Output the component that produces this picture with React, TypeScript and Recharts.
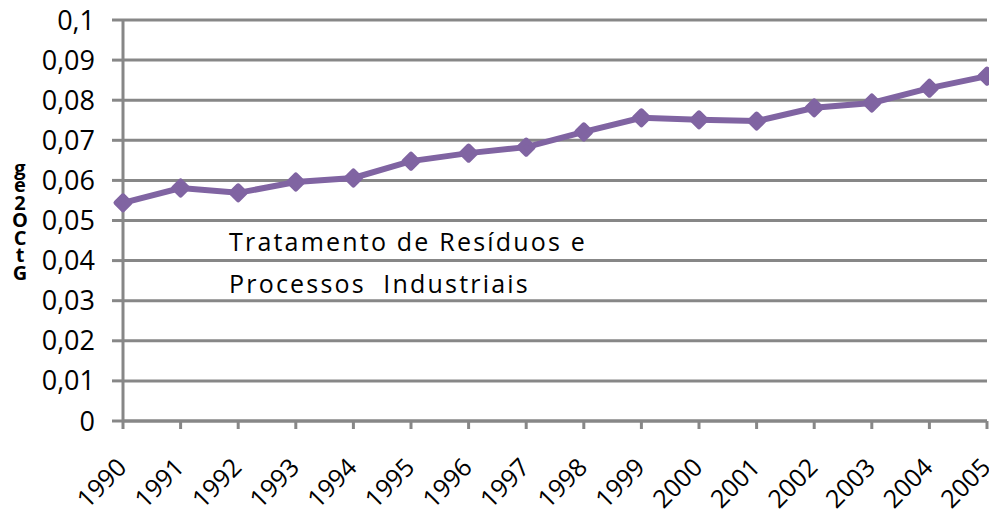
import { LineChart, Line, XAxis, YAxis, CartesianGrid, Label } from 'recharts'

const years = [1990, 1991, 1992, 1993, 1994, 1995, 1996, 1997, 1998, 1999, 2000, 2001, 2002, 2003, 2004, 2005]
const emissions = [0.0544, 0.0581, 0.0569, 0.0596, 0.0606, 0.0648, 0.0668, 0.0683, 0.0721, 0.0756, 0.0751, 0.0748, 0.0781, 0.0793, 0.083, 0.086]
const yTicks = [0, 0.01, 0.02, 0.03, 0.04, 0.05, 0.06, 0.07, 0.08, 0.09, 0.1]
const yLabelLetters = ['g', 'e', '2', 'O', 'C', 't', 'G']
const annotationLines = ['Tratamento de Resíduos e', 'Processos  Industriais']

const FONT = '"Open Sans", sans-serif'
const GRID = '#878787'
const PURPLE = '#8064A2'

const data = years.map((year, i) => ({ year, value: emissions[i] }))

function formatTick(v: number) {
  if (v === 0) return '0'
  return String(Math.round(v * 100) / 100).replace('.', ',')
}

function YearTick(props: any) {
  const { x, y, payload } = props
  return (
    <g transform={`translate(${x + 5},${y + 38}) rotate(-45)`}>
      <text x={0} y={0} textAnchor="end" fontSize={25} fontFamily={FONT} fill="#000">
        {payload.value}
      </text>
    </g>
  )
}

function Diamond(props: any) {
  const { cx, cy } = props
  if (cx == null || cy == null) return null
  const r = 7
  return (
    <path
      d={`M${cx},${cy - r} L${cx + r},${cy} L${cx},${cy + r} L${cx - r},${cy} Z`}
      fill={PURPLE}
      stroke={PURPLE}
      strokeWidth={5}
      strokeLinejoin="round"
    />
  )
}

function StackedLabel(props: any) {
  const { viewBox } = props
  const cx = 20
  const top = viewBox.y + viewBox.height / 2 - 46
  return (
    <text fontSize={20} fontWeight="bold" fontFamily={FONT} fill="#000" textAnchor="middle">
      {yLabelLetters.map((ch, i) => (
        <tspan key={i} x={cx} y={top + i * 17.5}>
          {ch}
        </tspan>
      ))}
    </text>
  )
}

export default function App() {
  return (
    <div style={{ position: 'relative', width: 989, height: 518, overflow: 'hidden' }}>
      <style>{'html, body { margin: 0; overflow: hidden; }'}</style>
      <LineChart width={989} height={518} data={data} margin={{ top: 20, right: 2, bottom: 0, left: 0 }}>
        <CartesianGrid horizontal vertical={false} stroke={GRID} strokeWidth={3} />
        <XAxis
          dataKey="year"
          type="number"
          domain={[1990, 2005]}
          ticks={years}
          interval={0}
          height={97}
          tick={<YearTick />}
          tickSize={8}
          axisLine={{ stroke: GRID, strokeWidth: 3 }}
          tickLine={{ stroke: GRID, strokeWidth: 3 }}
        />
        <YAxis
          domain={[0, 0.1]}
          ticks={yTicks}
          interval={0}
          width={123}
          tickFormatter={formatTick}
          tickSize={11}
          tickMargin={17}
          tick={{ fill: '#000', fontSize: 27, fontFamily: FONT }}
          axisLine={{ stroke: GRID, strokeWidth: 3 }}
          tickLine={{ stroke: GRID, strokeWidth: 3 }}
        >
          <Label content={<StackedLabel />} />
        </YAxis>
        <Line
          dataKey="value"
          stroke={PURPLE}
          strokeWidth={6}
          dot={<Diamond />}
          activeDot={false}
          isAnimationActive={false}
        />
      </LineChart>
      {annotationLines.map((line, i) => (
        <div
          key={i}
          style={{
            position: 'absolute',
            left: 229,
            top: 224 + i * 42,
            fontFamily: FONT,
            fontSize: 25,
            letterSpacing: 2.2,
            whiteSpace: 'pre',
            color: '#000',
            lineHeight: '34px',
          }}
        >
          {line}
        </div>
      ))}
    </div>
  )
}
